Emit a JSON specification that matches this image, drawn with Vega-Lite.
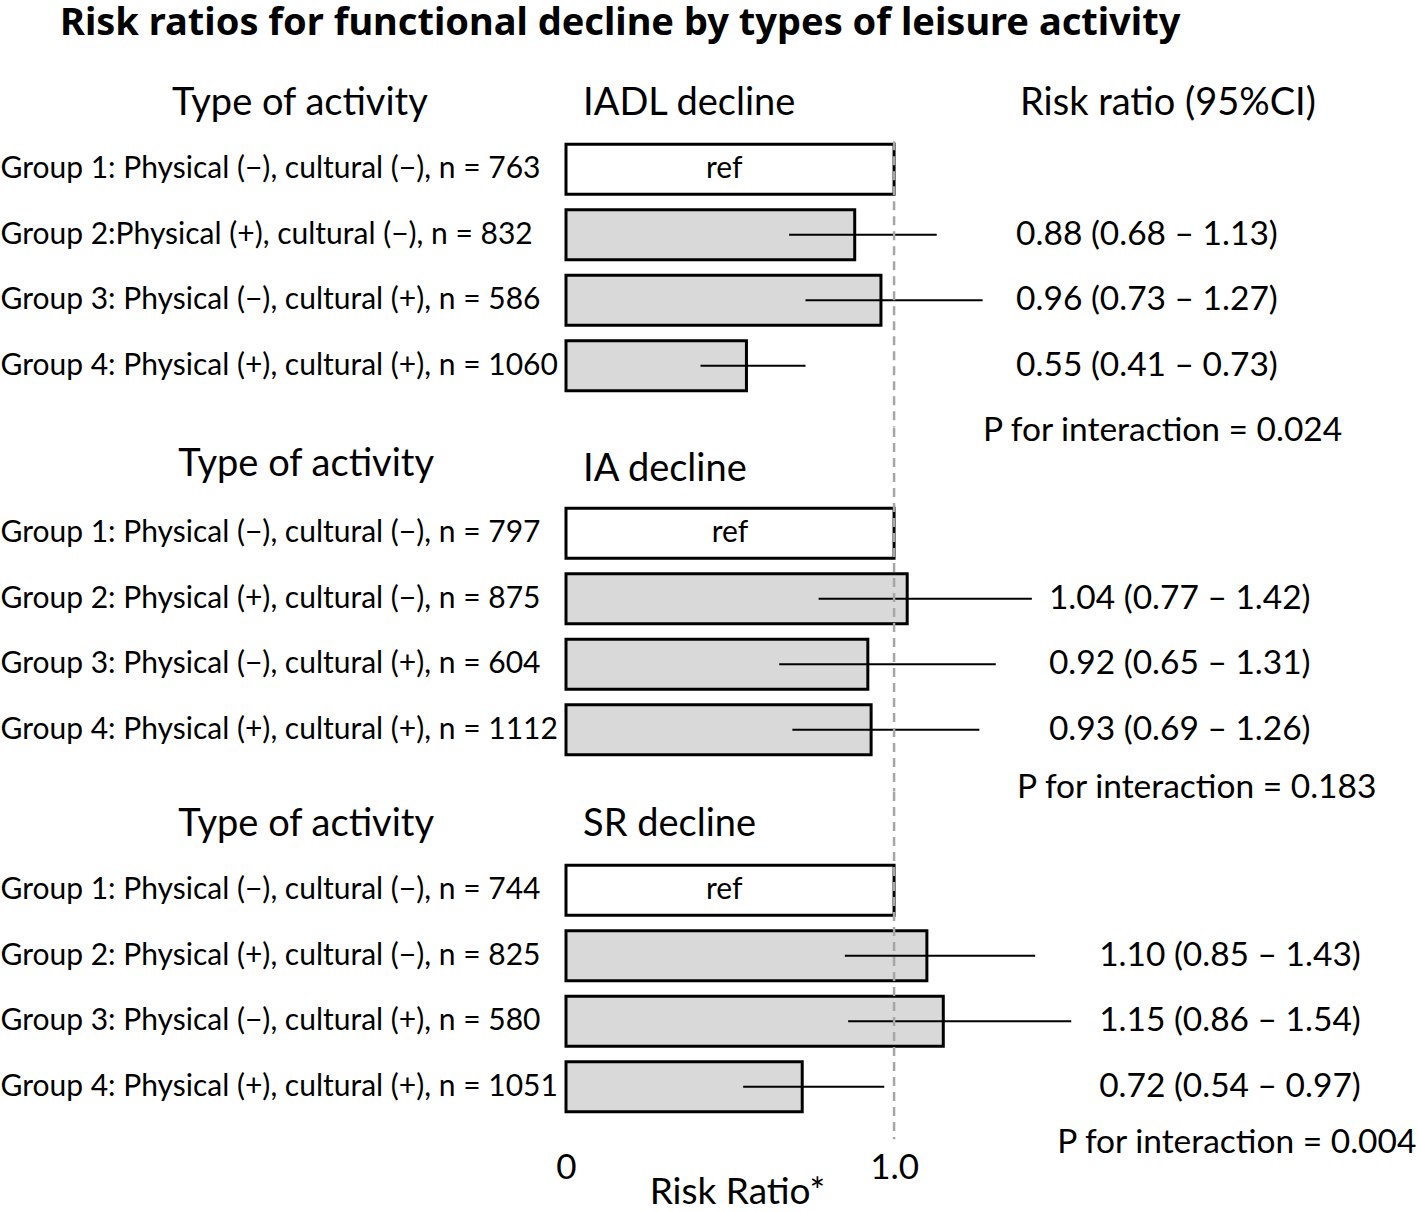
{
  "$schema": "https://vega.github.io/schema/vega-lite/v6.json",
  "padding": {"top": 5, "left": 0, "right": 0, "bottom": 0},
  "background": "white",
  "title": {
    "text": "Risk ratios for functional decline by types of leisure activity",
    "anchor": "start",
    "frame": "bounds",
    "dx": 60,
    "fontSize": 38,
    "fontWeight": "bold",
    "font": "Noto Sans",
    "color": "#000000",
    "offset": 28
  },
  "datasets": {
    "rows": [
      {"panel": "IADL", "label": "Group 1: Physical (−), cultural (−), n = 763", "kind": "ref", "rr": 1.0, "lo": null, "hi": null, "ci": ""},
      {"panel": "IADL", "label": "Group 2:Physical (+), cultural (−), n = 832", "kind": "est", "rr": 0.88, "lo": 0.68, "hi": 1.13, "ci": "0.88 (0.68 – 1.13)"},
      {"panel": "IADL", "label": "Group 3: Physical (−), cultural (+), n = 586", "kind": "est", "rr": 0.96, "lo": 0.73, "hi": 1.27, "ci": "0.96 (0.73 – 1.27)"},
      {"panel": "IADL", "label": "Group 4: Physical (+), cultural (+), n = 1060", "kind": "est", "rr": 0.55, "lo": 0.41, "hi": 0.73, "ci": "0.55 (0.41 – 0.73)"},
      {"panel": "IA", "label": "Group 1: Physical (−), cultural (−), n = 797", "kind": "ref", "rr": 1.0, "lo": null, "hi": null, "ci": ""},
      {"panel": "IA", "label": "Group 2: Physical (+), cultural (−), n = 875", "kind": "est", "rr": 1.04, "lo": 0.77, "hi": 1.42, "ci": "1.04 (0.77 – 1.42)"},
      {"panel": "IA", "label": "Group 3: Physical (−), cultural (+), n = 604", "kind": "est", "rr": 0.92, "lo": 0.65, "hi": 1.31, "ci": "0.92 (0.65 – 1.31)"},
      {"panel": "IA", "label": "Group 4: Physical (+), cultural (+), n = 1112", "kind": "est", "rr": 0.93, "lo": 0.69, "hi": 1.26, "ci": "0.93 (0.69 – 1.26)"},
      {"panel": "SR", "label": "Group 1: Physical (−), cultural (−), n = 744", "kind": "ref", "rr": 1.0, "lo": null, "hi": null, "ci": ""},
      {"panel": "SR", "label": "Group 2: Physical (+), cultural (−), n = 825", "kind": "est", "rr": 1.10, "lo": 0.85, "hi": 1.43, "ci": "1.10 (0.85 – 1.43)"},
      {"panel": "SR", "label": "Group 3: Physical (−), cultural (+), n = 580", "kind": "est", "rr": 1.15, "lo": 0.86, "hi": 1.54, "ci": "1.15 (0.86 – 1.54)"},
      {"panel": "SR", "label": "Group 4: Physical (+), cultural (+), n = 1051", "kind": "est", "rr": 0.72, "lo": 0.54, "hi": 0.97, "ci": "0.72 (0.54 – 0.97)"}
    ],
    "panels": [
      {"panel": "IADL", "activity": "Type of activity", "outcome": "IADL decline", "cihead": "Risk ratio (95%CI)", "p": "P for interaction = 0.024"},
      {"panel": "IA", "activity": "Type of activity", "outcome": "IA decline", "cihead": "", "p": "P for interaction = 0.183"},
      {"panel": "SR", "activity": "Type of activity", "outcome": "SR decline", "cihead": "", "p": "P for interaction = 0.004"}
    ]
  },
  "bounds": "flush",
  "spacing": 29,
  "vconcat": [
    {
      "width": 853,
      "height": 327.5,
      "layer": [
        {
          "data": {"name": "rows"},
          "transform": [{"filter": "datum.panel == 'IADL'"}],
          "mark": {"type": "bar", "stroke": "#000000", "strokeWidth": 3},
          "encoding": {
            "y": {"field": "label", "type": "nominal",
              "scale": {"domain": [" ", "Group 1: Physical (−), cultural (−), n = 763", "Group 2:Physical (+), cultural (−), n = 832", "Group 3: Physical (−), cultural (+), n = 586", "Group 4: Physical (+), cultural (+), n = 1060"], "paddingInner": 0.24, "paddingOuter": 0.12},
              "axis": {"title": null, "orient": "left", "domain": false, "ticks": false, "tickSize": 0, "labelAlign": "left", "labelPadding": 566, "labelLimit": 0, "labelFont": "Lato", "labelFontSize": 30, "labelColor": "#000000"}},
            "x": {"field": "rr", "type": "quantitative", "scale": {"domain": [0, 2.6], "nice": false, "zero": true}, "axis": null},
            "fill": {"field": "kind", "type": "nominal", "scale": {"domain": ["ref", "est"], "range": ["#ffffff", "#d9d9d9"]}, "legend": null}
          }
        },
        {
          "data": {"name": "rows"},
          "transform": [{"filter": "datum.panel == 'IADL' && datum.kind == 'ref'"}],
          "mark": {"type": "text", "font": "Lato", "fontSize": 30, "color": "#000000", "align": "center", "baseline": "middle"},
          "encoding": {"x": {"datum": 0.482}, "y": {"field": "label", "type": "nominal"}, "text": {"field": "kind"}}
        },
        {
          "data": {"name": "rows"},
          "transform": [{"filter": "datum.panel == 'IADL' && datum.kind == 'est'"}],
          "mark": {"type": "rule", "color": "#000000", "strokeWidth": 2},
          "encoding": {"x": {"field": "lo", "type": "quantitative"}, "x2": {"field": "hi"}, "y": {"field": "label", "type": "nominal"}}
        },
        {
          "data": {"name": "rows"},
          "transform": [{"filter": "datum.panel == 'IADL' && datum.kind == 'est'"}],
          "mark": {"type": "text", "font": "Lato", "fontSize": 33.5, "color": "#000000", "align": "left", "baseline": "middle"},
          "encoding": {"x": {"datum": 1.372}, "y": {"field": "label", "type": "nominal"}, "text": {"field": "ci"}}
        },
        {
          "data": {"name": "panels"},
          "transform": [{"filter": "datum.panel == 'IADL'"}],
          "mark": {"type": "rule", "color": "#a6a6a6", "strokeWidth": 2.5, "strokeDash": [9, 6], "yOffset": -28, "y2Offset": 61.75},
          "encoding": {"x": {"datum": 1.0}, "y": {"datum": "Group 1: Physical (−), cultural (−), n = 763"}, "y2": {"datum": "Group 4: Physical (+), cultural (+), n = 1060"}}
        },
        {
          "data": {"name": "panels"},
          "transform": [{"filter": "datum.panel == 'IADL'"}],
          "mark": {"type": "text", "font": "Lato", "fontSize": 38, "color": "#000000", "align": "center", "baseline": "middle"},
          "encoding": {"x": {"datum": -0.811}, "y": {"datum": " "}, "text": {"field": "activity"}}
        },
        {
          "data": {"name": "panels"},
          "transform": [{"filter": "datum.panel == 'IADL'"}],
          "mark": {"type": "text", "font": "Lato", "fontSize": 38, "color": "#000000", "align": "left", "baseline": "middle"},
          "encoding": {"x": {"datum": 0.052}, "y": {"datum": " "}, "text": {"field": "outcome"}}
        },
        {
          "data": {"name": "panels"},
          "transform": [{"filter": "datum.panel == 'IADL'"}],
          "mark": {"type": "text", "font": "Lato", "fontSize": 38, "color": "#000000", "align": "left", "baseline": "middle"},
          "encoding": {"x": {"datum": 1.384}, "y": {"datum": " "}, "text": {"field": "cihead"}}
        },
        {
          "data": {"name": "panels"},
          "transform": [{"filter": "datum.panel == 'IADL'"}],
          "mark": {"type": "text", "font": "Lato", "fontSize": 33.5, "color": "#000000", "align": "left", "baseline": "middle", "dy": 65},
          "encoding": {"x": {"datum": 1.271}, "y": {"datum": "Group 4: Physical (+), cultural (+), n = 1060"}, "text": {"field": "p"}}
        }
      ]
    },
    {
      "width": 853,
      "height": 334.5,
      "layer": [
        {
          "data": {"name": "rows"},
          "transform": [{"filter": "datum.panel == 'IA'"}],
          "mark": {"type": "bar", "stroke": "#000000", "strokeWidth": 3},
          "encoding": {
            "y": {"field": "label", "type": "nominal",
              "scale": {"domain": [" ", "Group 1: Physical (−), cultural (−), n = 797", "Group 2: Physical (+), cultural (−), n = 875", "Group 3: Physical (−), cultural (+), n = 604", "Group 4: Physical (+), cultural (+), n = 1112"], "paddingInner": 0.24, "paddingOuter": 0.17345, "align": 0.654},
              "axis": {"title": null, "orient": "left", "domain": false, "ticks": false, "tickSize": 0, "labelAlign": "left", "labelPadding": 566, "labelLimit": 0, "labelFont": "Lato", "labelFontSize": 30, "labelColor": "#000000"}},
            "x": {"field": "rr", "type": "quantitative", "scale": {"domain": [0, 2.6], "nice": false, "zero": true}, "axis": null},
            "fill": {"field": "kind", "type": "nominal", "scale": {"domain": ["ref", "est"], "range": ["#ffffff", "#d9d9d9"]}, "legend": null}
          }
        },
        {
          "data": {"name": "rows"},
          "transform": [{"filter": "datum.panel == 'IA' && datum.kind == 'ref'"}],
          "mark": {"type": "text", "font": "Lato", "fontSize": 30, "color": "#000000", "align": "center", "baseline": "middle"},
          "encoding": {"x": {"datum": 0.5}, "y": {"field": "label", "type": "nominal"}, "text": {"field": "kind"}}
        },
        {
          "data": {"name": "rows"},
          "transform": [{"filter": "datum.panel == 'IA' && datum.kind == 'est'"}],
          "mark": {"type": "rule", "color": "#000000", "strokeWidth": 2},
          "encoding": {"x": {"field": "lo", "type": "quantitative"}, "x2": {"field": "hi"}, "y": {"field": "label", "type": "nominal"}}
        },
        {
          "data": {"name": "rows"},
          "transform": [{"filter": "datum.panel == 'IA' && datum.kind == 'est'"}],
          "mark": {"type": "text", "font": "Lato", "fontSize": 33.5, "color": "#000000", "align": "left", "baseline": "middle"},
          "encoding": {"x": {"datum": 1.472}, "y": {"field": "label", "type": "nominal"}, "text": {"field": "ci"}}
        },
        {
          "data": {"name": "panels"},
          "transform": [{"filter": "datum.panel == 'IA'"}],
          "mark": {"type": "rule", "color": "#a6a6a6", "strokeWidth": 2.5, "strokeDash": [9, 6], "yOffset": -39.75, "y2Offset": 61.75},
          "encoding": {"x": {"datum": 1.0}, "y": {"datum": " "}, "y2": {"datum": "Group 4: Physical (+), cultural (+), n = 1112"}}
        },
        {
          "data": {"name": "panels"},
          "transform": [{"filter": "datum.panel == 'IA'"}],
          "mark": {"type": "text", "font": "Lato", "fontSize": 38, "color": "#000000", "align": "center", "baseline": "middle", "dy": -3},
          "encoding": {"x": {"datum": -0.792}, "y": {"datum": " "}, "text": {"field": "activity"}}
        },
        {
          "data": {"name": "panels"},
          "transform": [{"filter": "datum.panel == 'IA'"}],
          "mark": {"type": "text", "font": "Lato", "fontSize": 38, "color": "#000000", "align": "left", "baseline": "middle", "dy": 2},
          "encoding": {"x": {"datum": 0.052}, "y": {"datum": " "}, "text": {"field": "outcome"}}
        },
        {
          "data": {"name": "panels"},
          "transform": [{"filter": "datum.panel == 'IA'"}],
          "mark": {"type": "text", "font": "Lato", "fontSize": 33.5, "color": "#000000", "align": "left", "baseline": "middle", "dy": 58},
          "encoding": {"x": {"datum": 1.375}, "y": {"datum": "Group 4: Physical (+), cultural (+), n = 1112"}, "text": {"field": "p"}}
        }
      ]
    },
    {
      "width": 853,
      "height": 327.5,
      "layer": [
        {
          "data": {"name": "rows"},
          "transform": [{"filter": "datum.panel == 'SR'"}],
          "mark": {"type": "bar", "stroke": "#000000", "strokeWidth": 3},
          "encoding": {
            "y": {"field": "label", "type": "nominal",
              "scale": {"domain": [" ", "Group 1: Physical (−), cultural (−), n = 744", "Group 2: Physical (+), cultural (−), n = 825", "Group 3: Physical (−), cultural (+), n = 580", "Group 4: Physical (+), cultural (+), n = 1051"], "paddingInner": 0.24, "paddingOuter": 0.12},
              "axis": {"title": null, "orient": "left", "domain": false, "ticks": false, "tickSize": 0, "labelAlign": "left", "labelPadding": 566, "labelLimit": 0, "labelFont": "Lato", "labelFontSize": 30, "labelColor": "#000000"}},
            "x": {"field": "rr", "type": "quantitative", "scale": {"domain": [0, 2.6], "nice": false, "zero": true},
              "axis": {"values": [0, 1], "labelExpr": "datum.value == 0 ? '0' : format(datum.value, '.1f')", "labelFlush": false, "domain": false, "ticks": false, "tickSize": 0, "grid": false, "labelPadding": 31, "labelFont": "Lato", "labelFontSize": 35, "labelColor": "#000000", "title": "Risk Ratio*", "titleFont": "Lato", "titleFontSize": 37, "titleFontWeight": "normal", "titleColor": "#000000", "titleX": 171, "titleY": 73, "titleAlign": "center", "titleBaseline": "middle"}},
            "fill": {"field": "kind", "type": "nominal", "scale": {"domain": ["ref", "est"], "range": ["#ffffff", "#d9d9d9"]}, "legend": null}
          }
        },
        {
          "data": {"name": "rows"},
          "transform": [{"filter": "datum.panel == 'SR' && datum.kind == 'ref'"}],
          "mark": {"type": "text", "font": "Lato", "fontSize": 30, "color": "#000000", "align": "center", "baseline": "middle"},
          "encoding": {"x": {"datum": 0.482}, "y": {"field": "label", "type": "nominal"}, "text": {"field": "kind"}}
        },
        {
          "data": {"name": "rows"},
          "transform": [{"filter": "datum.panel == 'SR' && datum.kind == 'est'"}],
          "mark": {"type": "rule", "color": "#000000", "strokeWidth": 2},
          "encoding": {"x": {"field": "lo", "type": "quantitative"}, "x2": {"field": "hi"}, "y": {"field": "label", "type": "nominal"}}
        },
        {
          "data": {"name": "rows"},
          "transform": [{"filter": "datum.panel == 'SR' && datum.kind == 'est'"}],
          "mark": {"type": "text", "font": "Lato", "fontSize": 33.5, "color": "#000000", "align": "left", "baseline": "middle"},
          "encoding": {"x": {"datum": 1.625}, "y": {"field": "label", "type": "nominal"}, "text": {"field": "ci"}}
        },
        {
          "data": {"name": "panels"},
          "transform": [{"filter": "datum.panel == 'SR'"}],
          "mark": {"type": "rule", "color": "#a6a6a6", "strokeWidth": 2.5, "strokeDash": [9, 6], "yOffset": -32.75, "y2Offset": 52.5},
          "encoding": {"x": {"datum": 1.0}, "y": {"datum": " "}, "y2": {"datum": "Group 4: Physical (+), cultural (+), n = 1051"}}
        },
        {
          "data": {"name": "panels"},
          "transform": [{"filter": "datum.panel == 'SR'"}],
          "mark": {"type": "text", "font": "Lato", "fontSize": 38, "color": "#000000", "align": "center", "baseline": "middle"},
          "encoding": {"x": {"datum": -0.792}, "y": {"datum": " "}, "text": {"field": "activity"}}
        },
        {
          "data": {"name": "panels"},
          "transform": [{"filter": "datum.panel == 'SR'"}],
          "mark": {"type": "text", "font": "Lato", "fontSize": 38, "color": "#000000", "align": "left", "baseline": "middle"},
          "encoding": {"x": {"datum": 0.052}, "y": {"datum": " "}, "text": {"field": "outcome"}}
        },
        {
          "data": {"name": "panels"},
          "transform": [{"filter": "datum.panel == 'SR'"}],
          "mark": {"type": "text", "font": "Lato", "fontSize": 33.5, "color": "#000000", "align": "left", "baseline": "middle", "dy": 56.5},
          "encoding": {"x": {"datum": 1.497}, "y": {"datum": "Group 4: Physical (+), cultural (+), n = 1051"}, "text": {"field": "p"}}
        }
      ]
    }
  ],
  "config": {
    "view": {"stroke": null},
    "font": "Lato",
    "text": {"font": "Lato"}
  }
}
